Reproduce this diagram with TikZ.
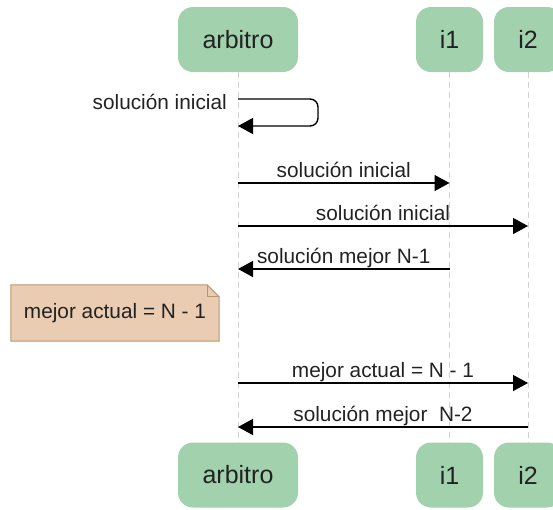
\documentclass[tikz,border=0pt]{standalone}
\usepackage{fontspec}
\setmainfont{Liberation Sans}
\usetikzlibrary{arrows.meta,backgrounds}
\definecolor{actorfill}{HTML}{A2D1AD}
\definecolor{notefill}{HTML}{E9CCB2}
\definecolor{notedraw}{HTML}{B9976E}
\definecolor{lifegray}{HTML}{D2D2D2}
\definecolor{txt}{HTML}{222222}
\begin{document}
\begin{tikzpicture}[x=1pt,y=-1pt,
  actor/.style={fill=actorfill, rounded corners=15pt, minimum height=65pt,
    text=txt, font=\fontsize{25}{30}\selectfont, inner sep=0pt},
  msg/.style={draw=black, line width=1.4pt, -{Triangle[length=15pt,width=16pt]}},
  lbl/.style={font=\fontsize{20.8}{25}\selectfont, text=txt, inner sep=0pt},
  life/.style={draw=lifegray, line width=1pt, dash pattern=on 6pt off 4pt}]
\useasboundingbox (0,0) rectangle (553,509);
\clip (0,0) rectangle (553,509);

% participants, top and bottom
\node[actor, minimum width=120pt] (arbT) at (238,39.5) {arbitro};
\node[actor, minimum width=67pt]  (i1T)  at (449.5,39.5) {i1};
\node[actor, minimum width=68pt]  (i2T)  at (528,39.5) {i2};
\node[actor, minimum width=120pt] (arbB) at (238,475) {arbitro};
\node[actor, minimum width=67pt]  (i1B)  at (449.5,475) {i1};
\node[actor, minimum width=68pt]  (i2B)  at (528,475) {i2};

% lifelines
\draw[life] (arbT.south) -- (arbB.north);
\draw[life] (i1T.south) -- (i1B.north);
\draw[life] (i2T.south) -- (i2B.north);

% points on the lifelines where messages start and end
\coordinate (a0) at (arbT.south |- 0,99);
\coordinate (a0r) at (arbT.south |- 0,126);
\coordinate (a1) at (arbT.south |- 0,183);
\coordinate (b1) at (i1T.south |- 0,183);
\coordinate (a2) at (arbT.south |- 0,226);
\coordinate (c2) at (i2T.south |- 0,226);
\coordinate (b3) at (i1T.south |- 0,269);
\coordinate (a3) at (arbT.south |- 0,269);
\coordinate (a4) at (arbT.south |- 0,383);
\coordinate (c4) at (i2T.south |- 0,383);
\coordinate (c5) at (i2T.south |- 0,427);
\coordinate (a5) at (arbT.south |- 0,427);

% self message of the arbitro
\draw[msg, rounded corners=8pt] (a0) -- (318,99) -- (318,126) -- (a0r);
\node[lbl, anchor=east] (l0) at (227,102) {solución inicial};

% messages
\draw[msg] (a1) -- (b1) node[lbl, midway, anchor=base, yshift=6pt] (l1) {solución inicial};
\draw[msg] (a2) -- (c2) node[lbl, midway, anchor=base, yshift=6pt] (l2) {solución inicial};
\draw[msg] (b3) -- (a3) node[lbl, midway, anchor=base, yshift=6pt] (l3) {solución mejor N-1};
\draw[msg] (a4) -- (c4) node[lbl, midway, anchor=base, yshift=6pt] (l4) {mejor actual = N - 1};
\draw[msg] (c5) -- (a5) node[lbl, midway, anchor=base, yshift=6pt] (l5) {solución mejor\ \ N-2};

% note with folded corner
\node[lbl, minimum width=208pt, minimum height=56pt] (note) at (115,313) {mejor actual = N - 1};
\begin{pgfonlayer}{background}
  \filldraw[fill=notefill, draw=notedraw, line width=1pt]
    (note.north west) -- ([xshift=-12pt]note.north east)
    -- ([yshift=-12pt]note.north east) -- (note.south east)
    -- (note.south west) -- cycle;
  \draw[notedraw, line width=0.8pt]
    ([xshift=-12pt]note.north east) -- ([xshift=-12pt,yshift=-12pt]note.north east)
    -- ([yshift=-12pt]note.north east);
\end{pgfonlayer}
\end{tikzpicture}
\end{document}
